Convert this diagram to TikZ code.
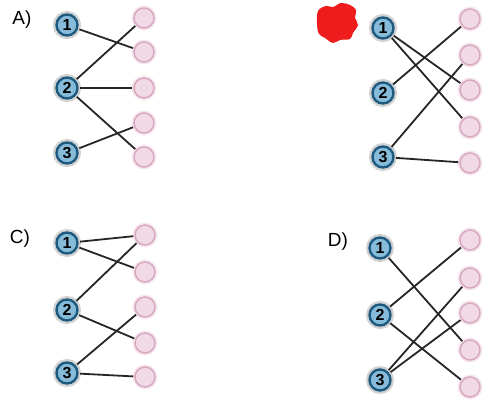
\documentclass[tikz,border=0pt]{standalone}
\usepackage{fontspec}
\setmainfont{Liberation Sans}
\definecolor{bluefill}{HTML}{86BCD9}
\definecolor{blueedge}{HTML}{1E5A80}
\definecolor{pinkfill}{HTML}{F1D9E5}
\definecolor{pinkedge}{HTML}{D6A9C0}
\definecolor{blobred}{HTML}{EE1C1C}
\tikzset{
  bnode/.style={circle, inner sep=0pt, minimum size=21pt, fill=bluefill, draw=blueedge, line width=2.4pt,
    preaction={draw=gray!35, line width=7pt}, font=\fontsize{16}{16}\selectfont\bfseries, text=black},
  pnode/.style={circle, inner sep=0pt, minimum size=20pt, fill=pinkfill, draw=pinkedge, line width=1.5pt,
    preaction={draw=pinkfill!60!white, line width=5pt}},
  lbl/.style={font=\fontsize{19}{19}\selectfont, inner sep=0pt},
  edge/.style={black!85, line width=1.8pt, shorten <=1.5pt, shorten >=1pt}
}
\begin{document}
\begin{tikzpicture}[x=1pt,y=-1pt]
\useasboundingbox (0,0) rectangle (483,403);
% ---------- A ----------
\node[lbl] (la) at (22,20) {A)};
\node[bnode] (a1) at (67,25) {1};
\node[bnode] (a2) at (67,88) {2};
\node[bnode] (a3) at (67,153) {3};
\node[pnode] (ap1) at (144,18) {};
\node[pnode] (ap2) at (144,52) {};
\node[pnode] (ap3) at (144,88) {};
\node[pnode] (ap4) at (144,123) {};
\node[pnode] (ap5) at (144,157) {};
\draw[edge] (a1) -- (ap2);
\draw[edge] (a2) -- (ap1);
\draw[edge] (a2) -- (ap3);
\draw[edge] (a2) -- (ap5);
\draw[edge] (a3) -- (ap4);
% ---------- B ----------
\fill[blobred] plot[smooth cycle, tension=0.6] coordinates {(318,11) (326,6) (333,7) (341,3) (350,5) (356,10) (355,18) (358,25) (353,33) (350,39) (340,40) (333,43) (325,38) (319,34) (317,24)};
\node[bnode] (b1) at (383,28) {1};
\node[bnode] (b2) at (383,93) {2};
\node[bnode] (b3) at (383,157) {3};
\node[pnode] (bp1) at (470,19) {};
\node[pnode] (bp2) at (470,55) {};
\node[pnode] (bp3) at (470,90) {};
\node[pnode] (bp4) at (470,127) {};
\node[pnode] (bp5) at (470,163) {};
\draw[edge] (b1) -- (bp3);
\draw[edge] (b1) -- (bp4);
\draw[edge] (b2) -- (bp1);
\draw[edge] (b3) -- (bp2);
\draw[edge] (b3) -- (bp5);
% ---------- C ----------
\node[lbl] (lc) at (20,239) {C)};
\node[bnode] (c1) at (67,243) {1};
\node[bnode] (c2) at (67,310) {2};
\node[bnode] (c3) at (67,373) {3};
\node[pnode] (cp1) at (145,235) {};
\node[pnode] (cp2) at (145,272) {};
\node[pnode] (cp3) at (145,307) {};
\node[pnode] (cp4) at (145,343) {};
\node[pnode] (cp5) at (145,377) {};
\draw[edge] (c1) -- (cp1);
\draw[edge] (c1) -- (cp2);
\draw[edge] (c2) -- (cp1);
\draw[edge] (c2) -- (cp4);
\draw[edge] (c3) -- (cp3);
\draw[edge] (c3) -- (cp5);
% ---------- D ----------
\node[lbl] (ld) at (338,242) {D)};
\node[bnode] (d1) at (380,248) {1};
\node[bnode] (d2) at (380,315) {2};
\node[bnode] (d3) at (380,380) {3};
\node[pnode] (dp1) at (470,240) {};
\node[pnode] (dp2) at (470,278) {};
\node[pnode] (dp3) at (470,313) {};
\node[pnode] (dp4) at (470,350) {};
\node[pnode] (dp5) at (470,387) {};
\draw[edge] (d1) -- (dp4);
\draw[edge] (d2) -- (dp1);
\draw[edge] (d2) -- (dp5);
\draw[edge] (d3) -- (dp2);
\draw[edge] (d3) -- (dp3);
\end{tikzpicture}
\end{document}
